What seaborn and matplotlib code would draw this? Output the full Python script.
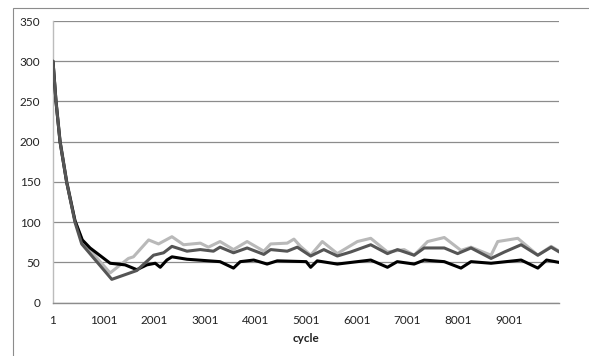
import numpy as np
import pandas as pd
import matplotlib
matplotlib.use("Agg")
import matplotlib.pyplot as plt
import seaborn as sns
from matplotlib.patches import Rectangle

# ---- data ----
cycle_light = [1, 60, 140, 270, 435, 580, 1130, 1490, 1590, 1890, 2085, 2350, 2580, 2911,
               3070, 3300, 3566, 3835, 4165, 4300, 4627, 4760, 4890, 5090, 5320, 5617, 6013,
               6277, 6607, 6937, 7134, 7400, 7729, 8059, 8257, 8653, 8785, 9181, 9577, 9840, 10001]
value_light = [300, 252, 202, 152, 102, 76, 37, 55, 57, 78, 73, 82, 72, 74,
               69, 76, 66, 76, 64, 73, 74, 79, 70, 59, 76, 61, 76,
               80, 63, 66, 59, 76, 81, 65, 69, 59, 76, 80, 59, 70, 64]

cycle_mid = [1, 60, 140, 270, 435, 568, 1162, 1657, 1986, 2185, 2350, 2647, 2911, 3170,
             3300, 3566, 3835, 4165, 4300, 4627, 4825, 5090, 5350, 5617, 5880, 6277, 6607,
             6805, 7134, 7333, 7729, 7993, 8257, 8653, 8917, 9247, 9577, 9840, 10001]
value_mid = [300, 250, 200, 150, 100, 73, 29, 40, 59, 62, 70, 64, 66, 64,
             69, 62, 68, 60, 66, 64, 69, 58, 66, 58, 63, 72, 61,
             66, 59, 68, 68, 61, 68, 55, 63, 72, 59, 69, 63]

cycle_black = [1, 60, 140, 270, 435, 580, 733, 1130, 1425, 1657, 1855, 2020, 2119, 2250,
               2350, 2647, 3300, 3566, 3700, 3965, 4230, 4430, 5001, 5090, 5220, 5617, 5880,
               6277, 6607, 6800, 7134, 7333, 7729, 8059, 8257, 8653, 9247, 9577, 9750, 10001]
value_black = [300, 250, 200, 150, 102, 78, 68, 49, 47, 41, 47, 49, 44, 53,
               57, 54, 51, 43, 51, 53, 48, 52, 51, 44, 52, 48, 50,
               53, 44, 51, 48, 53, 51, 43, 51, 49, 53, 43, 53, 50]

x_ticks = [1, 1001, 2001, 3001, 4001, 5001, 6001, 7001, 8001, 9001, 10001]
x_tick_labels = ["1", "1001", "2001", "3001", "4001", "5001", "6001", "7001", "8001", "9001", ""]
y_ticks = [0, 50, 100, 150, 200, 250, 300, 350]

sns.set_style("white")
plt.rcParams["font.family"] = ["Lato", "DejaVu Sans"]

fig = plt.figure(figsize=(5.89, 3.56), dpi=100)
ax = fig.add_axes([53 / 589, 1 - 302.7 / 356, (559.3 - 53) / 589, (302.7 - 21) / 356])

df_l = pd.DataFrame({"cycle": cycle_light, "value": value_light})
df_m = pd.DataFrame({"cycle": cycle_mid, "value": value_mid})
df_b = pd.DataFrame({"cycle": cycle_black, "value": value_black})

sns.lineplot(data=df_l, x="cycle", y="value", ax=ax, color="#b9b9b9", linewidth=2.2, zorder=3)
sns.lineplot(data=df_b, x="cycle", y="value", ax=ax, color="#000000", linewidth=2.2, zorder=4)
sns.lineplot(data=df_m, x="cycle", y="value", ax=ax, color="#555555", linewidth=2.2, zorder=5)

ax.set_xlim(1, 10001)
ax.set_ylim(0, 350)
ax.set_xticks(x_ticks)
ax.set_xticklabels(x_tick_labels)
ax.set_yticks(y_ticks)
ax.set_yticklabels([str(v) for v in y_ticks])

ax.yaxis.grid(True, color="#8c8c8c", linewidth=0.9)
ax.xaxis.grid(False)
ax.set_axisbelow(True)

for s in ["top", "right"]:
    ax.spines[s].set_visible(False)
ax.spines["left"].set_color("#bcbcbc")
ax.spines["left"].set_linewidth(1.0)
ax.spines["bottom"].set_color("#8c8c8c")
ax.spines["bottom"].set_linewidth(1.0)

ax.tick_params(axis="both", which="major", length=4, width=0.9, color="#8c8c8c",
               labelsize=8.5, labelcolor="#222222", direction="out", pad=5)
ax.tick_params(axis="y", color="#9a9a9a")

ax.set_ylabel("")
ax.set_xlabel("cycle", fontsize=8.5, fontweight="bold", color="#222222", labelpad=5)

# outer chart border
fig.patches.append(Rectangle((13 / 589, -0.2), 1.2, 1 - 8 / 356 + 0.2,
                             transform=fig.transFigure, fill=False,
                             edgecolor="#8c8c8c", linewidth=0.8))

fig.savefig("out.png", dpi=100)
